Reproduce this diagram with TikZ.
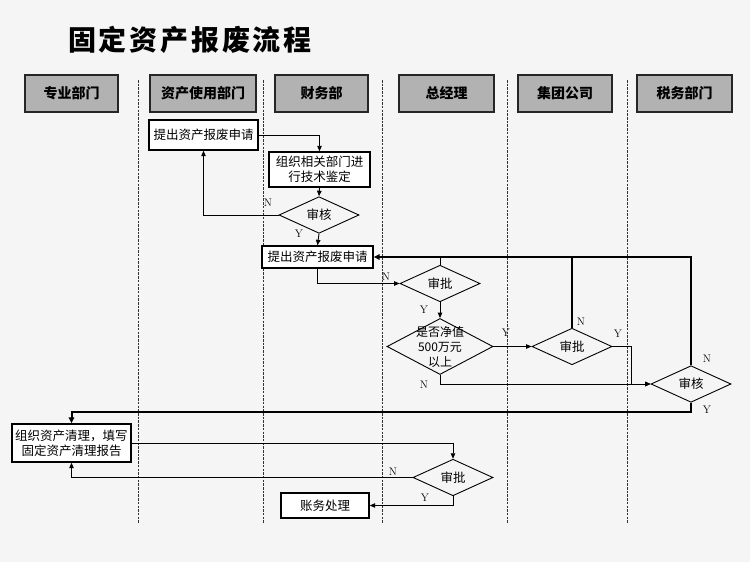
\documentclass[tikz,border=0pt]{standalone}
\usepackage{fontspec}
\newfontfamily\cjk{Noto Sans CJK SC}
\newfontfamily\cjktitle[LetterSpace=10]{Noto Sans CJK SC}
\usetikzlibrary{arrows.meta, shapes.geometric, calc}

\begin{document}
\begin{tikzpicture}[x=1pt, y=-1pt,
	every node/.style={font=\cjk\fontsize{12.5}{15}\selectfont},
	hdr/.style={draw=black!85, line width=1.6pt, fill=black!30, minimum height=37pt, inner sep=0pt, font=\cjk\fontsize{14}{16}\selectfont\bfseries},
	proc/.style={draw, line width=1.4pt, fill=white, inner sep=0pt, align=center},
	dec/.style={draw, line width=0.9pt, diamond, inner sep=0pt, minimum width=80pt, minimum height=31pt},
	lane/.style={black!80, line width=0.7pt, dash pattern=on 2.5pt off 1.2pt},
	flow/.style={line width=0.9pt, -{Triangle[length=5.5pt, width=4.5pt]}},
	back/.style={line width=2pt, -{Triangle[length=6pt, width=5.5pt]}},
	yn/.style={font=\fontsize{11}{12}\selectfont}]
	\useasboundingbox[fill=black!4] (0,0) rectangle (750,562);
	% title and lanes
	\node (title) at (190,40) {\cjktitle\fontsize{28}{30}\selectfont\bfseries 固定资产报废流程};
	\foreach \x in {138,263,382,507,627}
		\draw [lane] (\x,80) -- (\x,523);
	\node [hdr, minimum width=93pt] (h1) at (71.5,93.5) {专业部门};
	\node [hdr, minimum width=106pt] (h2) at (203,93.5) {资产使用部门};
	\node [hdr, minimum width=93pt] (h3) at (321.5,93.5) {财务部};
	\node [hdr, minimum width=95pt] (h4) at (446.5,93.5) {总经理};
	\node [hdr, minimum width=94pt] (h5) at (565,93.5) {集团公司};
	\node [hdr, minimum width=95pt] (h6) at (684.5,93.5) {税务部门};

	% boxes
	\node [proc, minimum width=109pt, minimum height=30pt] (A1) at (203.5,135) {提出资产报废申请};
	\node [proc, minimum width=101pt, minimum height=35pt] (B1) at (319.5,169.5) {组织相关部门进\\行技术鉴定};
	\node [proc, minimum width=111pt, minimum height=22pt] (A2) at (317.5,257) {提出资产报废申请};
	\node [proc, minimum width=119pt, minimum height=38pt] (C1) at (71.5,443) {组织资产清理，填写\\固定资产清理报告};
	\node [proc, minimum width=88pt, minimum height=25pt] (E1) at (325,505.5) {账务处理};

	% decisions
	\node [dec] (D1) at (319,215) {审核};
	\node [dec] (D2) at (440,283.5) {审批};
	\node [dec, minimum width=106pt, minimum height=56pt,
		label={[align=center, font=\cjk\fontsize{12}{15}\selectfont]center:是否净值\\500万元\\以上}] (D3) at (440,346.5) {};
	\node [dec] (D4) at (572,346.5) {审批};
	\node [dec] (D5) at (691,384) {审核};
	\node [dec] (D6) at (453,477.5) {审批};
	\coordinate (yb) at (631,346.5);
	\coordinate (rt) at (691,412);

	% connectors
	\draw [flow] (A1.east) -| (B1.north);
	\draw [flow] (B1.south) -- (D1.north);
	\draw [flow] (D1.west) -| (A1.south);
	\draw [flow] (D1.south) -- (A2.north);
	\draw [flow] (A2.south) |- (D2.west);
	\draw [flow] (D2.south) -- (D3.north);
	\draw [flow] (D3.east) -- (D4.west);
	\draw [line width=0.9pt] (D2.north) -- (D2.north |- A2.east);
	\draw [line width=1.4pt] (D4.north) -- (D4.north |- A2.east);
	\draw [back] (D5.north) |- (A2.east);
	\draw [flow] (D4.east) -- (yb) |- (D5.west);
	\draw [flow] (D3.south) |- (D5.west);
	\draw [back] (D5.south) -- (rt) -| (C1.north);
	\draw [flow] (C1.east) -| (D6.north);
	\draw [flow] (D6.west) -| (C1.south);
	\draw [flow] (D6.south) |- (E1.east);

	% branch labels
	\draw (268,203) node [yn] (n1) {N};
	\draw (299,234) node [yn] (y1) {Y};
	\draw (386,277) node [yn] (n2) {N};
	\draw (424,310) node [yn] (y2) {Y};
	\draw (506,333) node [yn] (y3) {Y};
	\draw (581,322) node [yn] (n3) {N};
	\draw (618,334) node [yn] (y4) {Y};
	\draw (424,385) node [yn] (n4) {N};
	\draw (707,359) node [yn] (n5) {N};
	\draw (707,410) node [yn] (y5) {Y};
	\draw (393,472) node [yn] (n6) {N};
	\draw (425,498) node [yn] (y6) {Y};
\end{tikzpicture}
\end{document}
